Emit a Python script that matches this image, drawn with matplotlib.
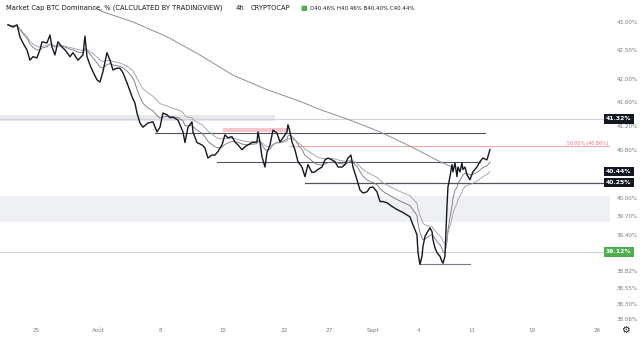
import matplotlib
matplotlib.use('Agg')
import matplotlib.pyplot as plt
import matplotlib.transforms as mtransforms
from matplotlib.ticker import NullLocator
import pandas as pd

# days since 25 July, dominance in %
days = [-3.16, -2.60, -2.14, -1.81, -1.47, -1.02, -0.68, -0.34, 0.11, 0.45, 0.68, 1.24, 1.58,
        1.81, 2.14, 2.48, 2.93, 3.27, 3.84, 4.18, 4.74, 5.30, 5.53, 5.76, 6.09, 6.43, 6.88,
        7.22, 7.56, 8.01, 8.35, 8.69, 9.14, 9.48, 9.82, 10.27, 10.84, 11.17, 11.40, 11.74,
        12.08, 12.64, 13.21, 13.66, 14.00, 14.33, 14.79, 15.12, 15.46, 16.03, 16.59, 16.82,
        17.16, 17.61, 17.72, 18.17, 18.74, 19.07, 19.41, 19.86, 20.20, 20.54, 20.99, 21.33,
        21.67, 22.12, 22.46, 22.80, 23.25, 23.59, 23.93, 24.38, 24.94, 25.06, 25.28, 25.51,
        25.85, 26.07, 26.41, 26.75, 27.20, 27.54, 27.88, 28.33, 28.44, 28.67, 28.89, 29.23,
        29.57, 30.02, 30.36, 30.70, 31.15, 31.49, 31.83, 32.28, 32.62, 32.96, 33.41, 33.75,
        34.09, 34.54, 34.88, 35.21, 35.55, 35.78, 36.23, 36.57, 36.91, 37.36, 37.70, 38.04,
        38.49, 38.83, 39.16, 39.62, 40.18, 40.74, 41.42, 42.21, 42.55, 43.00, 43.12, 43.34,
        43.57, 43.68, 43.91, 44.13, 44.47, 44.70, 44.81, 45.03, 45.26, 45.60, 45.82, 45.94,
        46.16, 46.39, 46.50, 46.73, 46.95, 47.07, 47.29, 47.52, 47.63, 47.86, 48.08, 48.19,
        48.42, 48.65, 48.98, 49.32, 49.77, 50.11, 50.45, 50.90, 51.24]
dominance = [42.95, 42.91, 42.95, 42.74, 42.63, 42.51, 42.33, 42.39, 42.37, 42.51, 42.65, 42.63,
             42.77, 42.56, 42.42, 42.65, 42.56, 42.51, 42.39, 42.46, 42.33, 42.42, 42.75, 42.39,
             42.25, 42.13, 41.99, 41.95, 42.13, 42.46, 42.33, 42.16, 42.19, 42.19, 42.11, 41.94,
             41.70, 41.59, 41.42, 41.25, 41.18, 41.25, 41.27, 41.10, 41.18, 41.42, 41.39, 41.34,
             41.35, 41.30, 41.10, 40.92, 41.18, 41.27, 41.10, 40.92, 40.88, 40.83, 40.66, 40.71,
             40.71, 40.77, 40.88, 41.05, 41.00, 41.02, 40.93, 40.88, 40.80, 40.85, 40.88, 40.92,
             40.93, 41.10, 40.93, 40.68, 40.51, 40.75, 40.88, 41.13, 41.08, 40.93, 41.00, 41.10,
             41.22, 41.10, 40.93, 40.80, 40.60, 40.51, 40.35, 40.55, 40.42, 40.43, 40.47, 40.51,
             40.63, 40.66, 40.63, 40.60, 40.51, 40.51, 40.55, 40.66, 40.71, 40.51, 40.30, 40.13,
             40.08, 40.10, 40.17, 40.18, 40.10, 39.94, 39.94, 39.92, 39.86, 39.81, 39.76, 39.69,
             39.56, 39.40, 39.11, 38.92, 39.05, 39.21, 39.37, 39.43, 39.51, 39.45, 39.32, 39.19,
             39.11, 39.05, 38.97, 38.94, 39.05, 39.86, 40.18, 40.35, 40.55, 40.43, 40.58, 40.35,
             40.51, 40.43, 40.58, 40.47, 40.51, 40.38, 40.30, 40.43, 40.51, 40.60, 40.66, 40.63,
             40.80]

ma200_days = [6.66, 7.56, 10.95, 14.79, 18.51, 22.23, 26.07, 29.80, 32.05, 35.44, 38.83,
              42.21, 45.60, 46.95]
ma200 = [43.25, 43.18, 43.00, 42.74, 42.42, 42.07, 41.82, 41.62, 41.48, 41.30, 41.10, 40.86,
         40.60, 40.51]

ytick_vals = [43.00, 42.50, 42.00, 41.60, 41.20, 40.80, 40.00, 39.70, 39.40,
              38.82, 38.55, 38.30, 38.06]
xtick_pos = [0, 7.0, 14.0, 21.1, 28.0, 33.07, 38.04, 43.23, 49.21, 55.98, 63.32]
xtick_labels = ['25', 'Août', '8', '15', '22', '27', 'Sept', '4', '11', '19', '26']

# (level, start day, end day, color, width)
hlines = [(41.32, -4.1, 64.8, '#d1d4dc', 0.8),
          (41.08, 13.43, 50.68, '#50535e', 0.8),
          (40.86, 28.67, 64.8, '#f2a7ad', 0.8),
          (40.60, 20.43, 50.11, '#50535e', 0.8),
          (40.25, 30.36, 64.8, '#50535e', 0.9),
          (39.12, -4.1, 64.8, '#d1d4dc', 0.9),
          (38.92, 43.34, 48.98, '#787b86', 0.8)]
# (low, high, start day, end day, color)
zones = [(41.29, 41.38, -4.1, 26.98, '#e6e8ee'),
         (41.10, 41.17, 21.1, 28.44, '#f7c6cb'),
         (39.61, 40.03, -4.1, 64.8, '#eef0f4')]
# (value, text, box color)
price_tags = [(41.32, '41.32%', '#131722'), (40.44, '40.44%', '#131722'),
              (40.25, '40.25%', '#131722'), (39.12, '39.12%', '#4caf50')]

fig = plt.figure(figsize=(6.4, 3.38), dpi=100)
ax = fig.add_axes([0, 16 / 338, 610 / 640, 322 / 338])
ax.set_yscale('log')
ax.set_xlim(-4.06, 64.79)
ax.set_ylim(38.01, 43.39)

for lo, hi, x0, x1, c in zones:
    ax.fill_between([x0, x1], lo, hi, color=c, lw=0, zorder=1)
for lvl, x0, x1, c, lw in hlines:
    ax.plot([x0, x1], [lvl, lvl], color=c, lw=lw, zorder=2)

s = pd.Series(dominance)
ax.plot(days, s.ewm(span=8).mean(), color='#7d6e71', lw=0.6, zorder=3)
ax.plot(days, s.ewm(span=16).mean(), color='#9a9ca4', lw=0.6, zorder=3)
ax.plot(ma200_days, ma200, color='#8d8f96', lw=0.7, zorder=3)
ax.plot(days, dominance, color='#131722', lw=1.0, zorder=4)

ax.text(64.6, 40.87, '50.00% (40.86%)', color='#e0707a', fontsize=3.4,
        ha='right', va='bottom')

for sp in ax.spines.values():
    sp.set_visible(False)
ax.yaxis.tick_right()
ax.yaxis.set_minor_locator(NullLocator())
ax.set_yticks(ytick_vals)
ax.set_yticklabels(['{:.2f}%'.format(v) for v in ytick_vals])
ax.set_xticks(xtick_pos)
ax.set_xticklabels(xtick_labels)
ax.tick_params(axis='both', length=0, labelsize=4.1, colors='#787b86')
ax.tick_params(axis='y', pad=5)
ax.tick_params(axis='x', pad=4)

trans = mtransforms.blended_transform_factory(fig.transFigure, ax.transData)
for v, t, c in price_tags:
    ax.text(606 / 640, v, t, transform=trans, color='white', fontsize=4.4,
            fontweight='bold', ha='left', va='center', zorder=6, clip_on=False,
            bbox=dict(boxstyle='square,pad=0.35', fc=c, ec='none'))

ty = 1 - 8 / 338
fig.text(6 / 640, ty, 'Market Cap BTC Dominance, % (CALCULATED BY TRADINGVIEW)',
         fontsize=4.9, color='#131722', va='center')
fig.text(236 / 640, ty, '4h', fontsize=4.9, color='#131722', va='center')
fig.text(251 / 640, ty, 'CRYPTOCAP', fontsize=4.9, color='#131722', va='center')
fig.text(300 / 640, ty, '■', fontsize=5, color='#4caf50', va='center')
fig.text(310 / 640, ty, 'O40.46% H40.46% B40.40% C40.44%', fontsize=4.0,
         color='#131722', va='center')
fig.text(625 / 640, 1 - 330 / 338, '⚙', fontsize=7, color='#131722',
         ha='center', va='center')

plt.savefig('out.png', dpi=100)
plt.close()
